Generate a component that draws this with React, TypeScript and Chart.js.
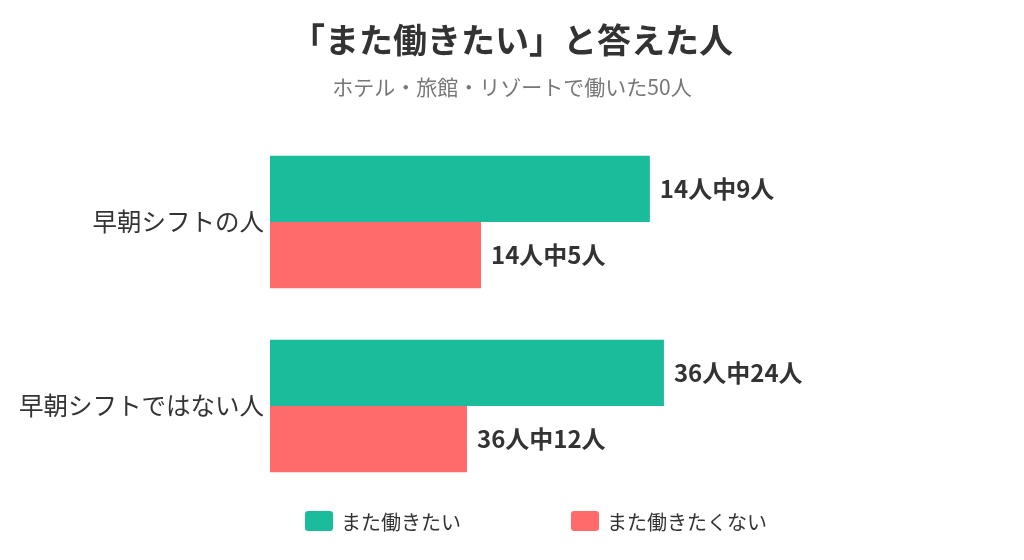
import React, { useEffect, useRef } from "react";
import { Chart, registerables } from "chart.js";

Chart.register(...registerables);

const categories = ["早朝シフトの人", "早朝シフトではない人"];
const seriesNames = ["また働きたい", "また働きたくない"];
const totals = [14, 36];
const wantAgain = [9, 24];
const notAgain = [5, 12];
const colors = ["#1ABC9C", "#FF6B6B"];

const FONT = "'Noto Sans CJK JP', 'Noto Sans', sans-serif";

const pct = (n: number[]) => n.map((v, i) => (v / totals[i]) * 100);

const valueLabels = {
  id: "valueLabels",
  afterDatasetsDraw(chart: Chart) {
    const ctx = chart.ctx;
    ctx.save();
    ctx.font = `bold 24px ${FONT}`;
    ctx.fillStyle = "#333333";
    ctx.textAlign = "left";
    ctx.textBaseline = "middle";
    const counts = [wantAgain, notAgain];
    chart.data.datasets.forEach((_, di) => {
      chart.getDatasetMeta(di).data.forEach((bar: any, i) => {
        ctx.fillText(`${totals[i]}人中${counts[di][i]}人`, bar.x + 10, bar.y);
      });
    });
    ctx.restore();
  },
};

const App: React.FC = () => {
  const chartRef = useRef<HTMLCanvasElement>(null);
  const chartInstance = useRef<Chart>();

  useEffect(() => {
    if (!chartRef.current) return;
    const ctx = chartRef.current.getContext("2d");
    if (!ctx) return;
    if (chartInstance.current) chartInstance.current.destroy();

    chartInstance.current = new Chart(ctx, {
      type: "bar",
      data: {
        labels: categories,
        datasets: [
          {
            label: seriesNames[0],
            data: pct(wantAgain),
            backgroundColor: colors[0],
            barPercentage: 1,
            categoryPercentage: 0.72,
          },
          {
            label: seriesNames[1],
            data: pct(notAgain),
            backgroundColor: colors[1],
            barPercentage: 1,
            categoryPercentage: 0.72,
          },
        ],
      },
      options: {
        indexAxis: "y",
        animation: false,
        responsive: false,
        devicePixelRatio: 1,
        layout: {
          padding: { top: 0, left: 0, right: 0, bottom: 62 },
        },
        scales: {
          x: {
            display: false,
            min: 0,
            max: 127.6,
          },
          y: {
            grid: { display: false, drawTicks: false },
            border: { display: false },
            ticks: {
              color: "#333333",
              font: { family: FONT, size: 24.5 },
              padding: 6,
            },
            afterFit(scale: any) {
              scale.width = 270;
            },
          },
        },
        plugins: {
          legend: { display: false },
          tooltip: { enabled: false },
          title: {
            display: true,
            text: "「また働きたい」と答えた人",
            color: "#333333",
            font: { family: FONT, size: 34, weight: "bold", lineHeight: 1.2 },
            padding: { top: 20, bottom: 14 },
          },
          subtitle: {
            display: true,
            text: "ホテル・旅館・リゾートで働いた50人",
            color: "#777777",
            font: { family: FONT, size: 21, lineHeight: 1.2 },
            padding: { top: 0, bottom: 30 },
          },
        },
      },
      plugins: [valueLabels],
    });

    return () => {
      if (chartInstance.current) {
        chartInstance.current.destroy();
        chartInstance.current = undefined;
      }
    };
  }, []);

  return (
    <div style={styles.wrap}>
      <canvas ref={chartRef} width={1024} height={560} />
      <div style={styles.legend}>
        {seriesNames.map((name, i) => (
          <div key={name} style={styles.item}>
            <span style={{ ...styles.box, background: colors[i] }} />
            <span>{name}</span>
          </div>
        ))}
      </div>
    </div>
  );
};

const styles: Record<string, React.CSSProperties> = {
  wrap: {
    position: "absolute",
    left: 0,
    top: 0,
    width: 1024,
    height: 560,
    background: "#ffffff",
  },
  legend: {
    position: "absolute",
    left: 305,
    top: 509,
    display: "flex",
    fontFamily: FONT,
    fontSize: 20,
    color: "#333333",
  },
  item: {
    width: 266,
    display: "flex",
    alignItems: "center",
    height: 24,
  },
  box: {
    display: "inline-block",
    width: 28,
    height: 20,
    borderRadius: 3,
    marginRight: 8,
  },
};

export default App;
